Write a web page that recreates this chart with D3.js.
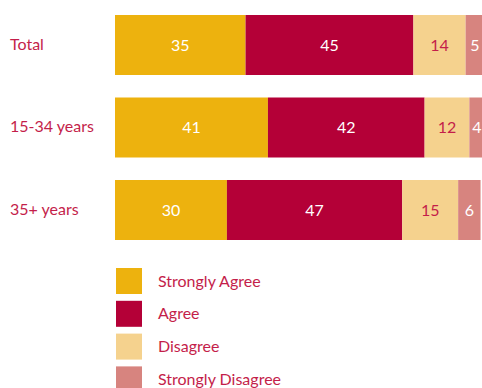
<!DOCTYPE html>
<html>
<head>
<meta charset="utf-8">
<script src="https://cdn.jsdelivr.net/npm/d3@7"></script>
<style>
  html, body { margin: 0; padding: 0; background: #fff; overflow: hidden; }
  svg { display: block; }
</style>
</head>
<body>
<svg id="chart" width="482" height="388"></svg>
<script>
// Survey responses by age group (percent)
const groups = ["Total", "15-34 years", "35+ years"];
const responses = ["Strongly Agree", "Agree", "Disagree", "Strongly Disagree"];
const stronglyAgree = [35, 41, 30];
const agree = [45, 42, 47];
const disagree = [14, 12, 15];
const stronglyDisagree = [5, 4, 6];
const colors = ["#EDB20E", "#B40037", "#F5D28E", "#D7847F"];
const valueColors = ["#ffffff", "#ffffff", "#C41E4A", "#ffffff"];

const seriesValues = [stronglyAgree, agree, disagree, stronglyDisagree];
const rows = groups.map((g, i) => {
  const r = { group: g };
  responses.forEach((k, j) => { r[k] = seriesValues[j][i]; });
  return r;
});

const svg = d3.select("#chart");
const font = "Lato, sans-serif";
const labelColor = "#C41E4A";

const x = d3.scaleLinear().domain([0, 100]).range([115, 488]);
const y = d3.scaleBand().domain(groups).range([15, 240]).paddingInner(0.2727).paddingOuter(0);

const stack = d3.stack().keys(responses);
const layers = stack(rows);

const layerG = svg.selectAll("g.layer")
  .data(layers)
  .join("g")
  .attr("class", "layer")
  .attr("fill", (d, i) => colors[i]);

layerG.selectAll("rect")
  .data(d => d)
  .join("rect")
  .attr("x", d => x(d[0]))
  .attr("y", d => y(d.data.group))
  .attr("width", d => x(d[1]) - x(d[0]))
  .attr("height", y.bandwidth());

layerG.each(function(layer, i) {
  d3.select(this).selectAll("text")
    .data(layer)
    .join("text")
    .attr("x", d => (x(d[0]) + x(d[1])) / 2)
    .attr("y", d => y(d.data.group) + y.bandwidth() / 2)
    .attr("dy", "0.35em")
    .attr("text-anchor", "middle")
    .attr("fill", valueColors[i])
    .style("font-family", font)
    .style("font-size", "16px")
    .text(d => d[1] - d[0]);
});

// Category labels on the left
svg.selectAll("text.cat")
  .data(groups)
  .join("text")
  .attr("class", "cat")
  .attr("x", 10)
  .attr("y", d => y(d) + y.bandwidth() / 2)
  .attr("dy", "0.3em")
  .attr("fill", labelColor)
  .style("font-family", font)
  .style("font-size", "16px")
  .text(d => d);

// Legend
const legend = svg.append("g").attr("transform", "translate(116,268)");
const item = legend.selectAll("g")
  .data(responses)
  .join("g")
  .attr("transform", (d, i) => `translate(0,${i * 32.8})`);
item.append("rect")
  .attr("width", 26)
  .attr("height", 26)
  .attr("fill", (d, i) => colors[i]);
item.append("text")
  .attr("x", 42)
  .attr("y", 13)
  .attr("dy", "0.35em")
  .attr("fill", labelColor)
  .style("font-family", font)
  .style("font-size", "16px")
  .text(d => d);
</script>
</body>
</html>
